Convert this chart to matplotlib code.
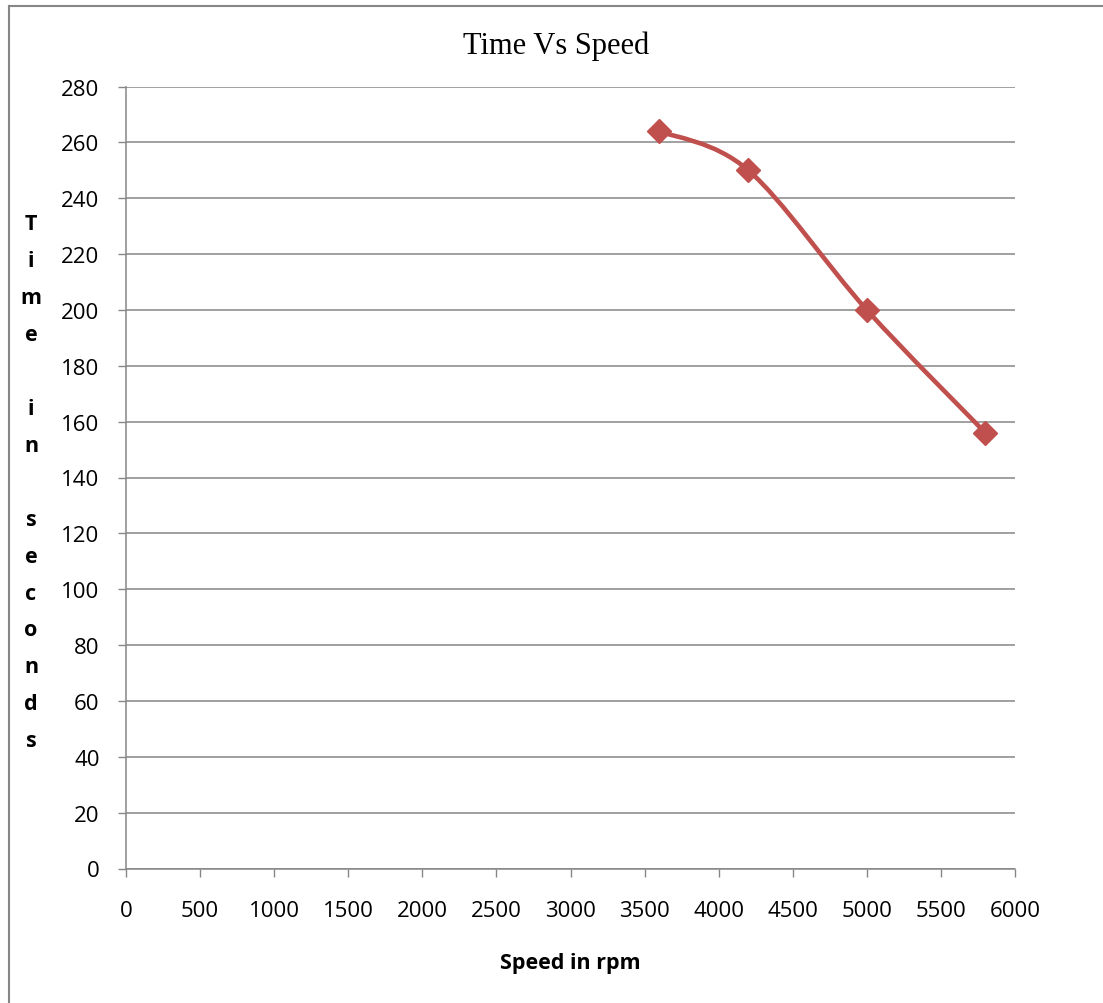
import numpy as np
import matplotlib
matplotlib.use('Agg')
import matplotlib.pyplot as plt
from matplotlib.path import Path
from matplotlib.patches import PathPatch
from matplotlib.lines import Line2D

# data
speed = np.array([3600, 4200, 5000, 5800])   # rpm
time_s = np.array([264, 250, 200, 156])      # seconds
x_ticks = [0, 500, 1000, 1500, 2000, 2500, 3000, 3500, 4000, 4500, 5000, 5500, 6000]
y_ticks = [0, 20, 40, 60, 80, 100, 120, 140, 160, 180, 200, 220, 240, 260, 280]

title = 'Time Vs Speed'
xlabel = 'Speed in rpm'
ylabel = 'Time in seconds'

red = '#C0504D'
grey = '#868686'

W, H = 1103, 1004
fig = plt.figure(figsize=(W / 100, H / 100), dpi=100)
ax = fig.add_axes([126 / W, 1 - 869.5 / H, 889 / W, 782 / H])

ax.set_xlim(0, 6000)
ax.set_ylim(0, 280)
ax.set_xticks(x_ticks)
ax.set_yticks(y_ticks)
ax.set_xticklabels([str(v) for v in x_ticks], family='Open Sans', fontsize=16)
ax.set_yticklabels([str(v) for v in y_ticks], family='Open Sans', fontsize=16)
ax.tick_params(axis='both', direction='out', length=6, width=1, color=grey)
ax.tick_params(axis='x', pad=17)
ax.tick_params(axis='y', pad=13)

ax.grid(axis='y', color=grey, linewidth=1.1)
ax.set_axisbelow(True)
for s in ['top', 'right']:
    ax.spines[s].set_visible(False)
for s in ['left', 'bottom']:
    ax.spines[s].set_color(grey)
    ax.spines[s].set_linewidth(1.1)

# smoothed line like the spreadsheet (bezier between the points)
pts = np.column_stack([speed, time_s]).astype(float)
n = len(pts)
verts = [pts[0]]
codes = [Path.MOVETO]
for i in range(n - 1):
    p_prev = pts[i - 1] if i > 0 else pts[i]
    p_next2 = pts[i + 2] if i + 2 < n else pts[i + 1]
    c1 = pts[i] + (pts[i + 1] - p_prev) / 6
    c2 = pts[i + 1] - (p_next2 - pts[i]) / 6
    verts += [c1, c2, pts[i + 1]]
    codes += [Path.CURVE4] * 3
curve = PathPatch(Path(verts, codes), facecolor='none', edgecolor=red, linewidth=3.3,
                  capstyle='round', joinstyle='round', zorder=3)
ax.add_patch(curve)
ax.plot(speed, time_s, linestyle='none', marker='D', markersize=12, color=red, zorder=4)

fig.text(556 / W, 1 - 46 / H, title, family='Liberation Serif', fontsize=22,
         ha='center', va='center')
fig.text(570 / W, 1 - 964 / H, xlabel, family='Open Sans', fontweight='bold',
         fontsize=15.5, ha='center', va='center')

# stacked vertical label, one letter per row
pitch = 36.9
for i, ch in enumerate(ylabel):
    if ch.strip():
        fig.text(31 / W, 1 - (225 + i * pitch) / H, ch, family='Open Sans',
                 fontweight='bold', fontsize=15.5, ha='center', va='center')

# outer chart frame (cut off at right and bottom)
fig.add_artist(Line2D([8.5 / W, 8.5 / W], [0, 1 - 6.5 / H], color=grey, linewidth=1.5))
fig.add_artist(Line2D([8.5 / W, 1], [1 - 6.5 / H, 1 - 6.5 / H], color=grey, linewidth=1.5))

fig.savefig('out.png', dpi=100)
